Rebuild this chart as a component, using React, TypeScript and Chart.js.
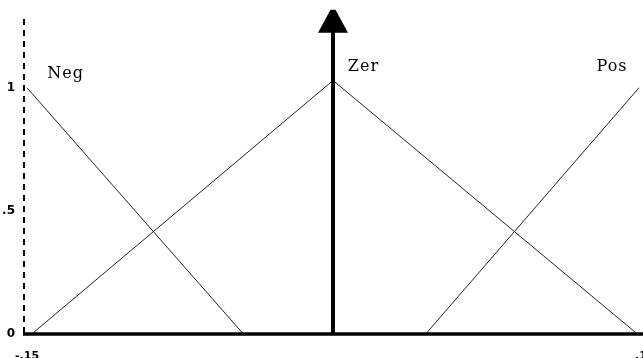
import React, { useEffect, useRef } from "react";
import { Chart, registerables } from "chart.js";

Chart.register(...registerables);

const negX = [-0.99, -0.29];
const negY = [1, 0];
const zerX = [-0.975, 0, 0.985];
const zerY = [0, 1.03, 0];
const posX = [0.3, 0.99];
const posY = [0, 1];

const setNames = ["Neg", "Zer", "Pos"];
const nameAnchorX = [-0.925, 0.048, 0.853];
const nameAnchorY = [1.04, 1.07, 1.07];

const yTickValues = [0, 0.5, 1];
const yTickLabels = ["0", ".5", "1"];
const xTickValues = [-1, 1];
const xTickLabels = ["-.15", ".15"];

const arrowTopValue = 1.317;

function pts(xs: number[], ys: number[]) {
  return xs.map((x, i) => ({ x, y: ys[i] }));
}

const decor = {
  id: "decor",
  afterDatasetsDraw(chart: any) {
    const ctx = chart.ctx as CanvasRenderingContext2D;
    const xs = chart.scales.x;
    const ys = chart.scales.y;
    const left = chart.chartArea.left;
    const right = chart.chartArea.right;
    const y0 = ys.getPixelForValue(0);
    ctx.save();
    // dashed y axis
    ctx.strokeStyle = "#000";
    ctx.lineWidth = 2;
    ctx.setLineDash([6, 5]);
    ctx.beginPath();
    ctx.moveTo(left, 19);
    ctx.lineTo(left, y0);
    ctx.stroke();
    ctx.setLineDash([]);
    // x axis
    ctx.lineWidth = 3.5;
    ctx.beginPath();
    ctx.moveTo(left - 1, y0);
    ctx.lineTo(right + 2, y0);
    ctx.stroke();
    // central arrow
    const cx = xs.getPixelForValue(0);
    const tip = ys.getPixelForValue(arrowTopValue);
    ctx.lineWidth = 4;
    ctx.beginPath();
    ctx.moveTo(cx, y0);
    ctx.lineTo(cx, tip + 20);
    ctx.stroke();
    ctx.fillStyle = "#000";
    ctx.beginPath();
    ctx.moveTo(cx - 2.5, tip);
    ctx.lineTo(cx + 2.5, tip);
    ctx.lineTo(cx + 15, tip + 23);
    ctx.lineTo(cx - 15, tip + 23);
    ctx.closePath();
    ctx.fill();
    // y tick labels
    ctx.font = "bold 12px 'DejaVu Sans'";
    ctx.textAlign = "right";
    ctx.textBaseline = "middle";
    yTickValues.forEach((v, i) => {
      ctx.fillText(yTickLabels[i], 15, ys.getPixelForValue(v));
    });
    // x tick labels
    ctx.textAlign = "left";
    ctx.textBaseline = "top";
    ctx.font = "bold 11px 'DejaVu Sans'";
    ctx.fillText(xTickLabels[0], xs.getPixelForValue(xTickValues[0]) - 9, 351);
    ctx.fillText(xTickLabels[1], xs.getPixelForValue(xTickValues[1]) - 7, 351);
    // set names
    ctx.font = "16px 'DejaVu Serif'";
    (ctx as any).letterSpacing = "1px";
    ctx.textBaseline = "alphabetic";
    setNames.forEach((n, i) => {
      ctx.fillText(n, xs.getPixelForValue(nameAnchorX[i]), ys.getPixelForValue(nameAnchorY[i]));
    });
    ctx.restore();
  },
};

export default function App() {
  const ref = useRef<HTMLCanvasElement>(null);
  useEffect(() => {
    if (!ref.current) return;
    const lineStyle = {
      showLine: true,
      borderColor: "#222",
      borderWidth: 1,
      pointRadius: 0,
      fill: false,
      tension: 0,
    };
    const chart = new Chart(ref.current, {
      type: "scatter",
      data: {
        datasets: [
          { label: "Neg", data: pts(negX, negY), ...lineStyle },
          { label: "Zer", data: pts(zerX, zerY), ...lineStyle },
          { label: "Pos", data: pts(posX, posY), ...lineStyle },
        ],
      },
      options: {
        animation: false,
        responsive: false,
        layout: { padding: { left: 24, right: 1, top: 14, bottom: 24 } },
        plugins: { legend: { display: false }, tooltip: { enabled: false } },
        scales: {
          x: { type: "linear", min: -1, max: 1, display: false },
          y: { type: "linear", min: 0, max: 1.3, display: false },
        },
      },
      plugins: [decor],
    });
    return () => chart.destroy();
  }, []);
  return (
    <div style={{ position: "absolute", left: 0, top: 0, width: 643, height: 358, background: "#fff" }}>
      <canvas ref={ref} width={643} height={358} style={{ display: "block" }} />
    </div>
  );
}
